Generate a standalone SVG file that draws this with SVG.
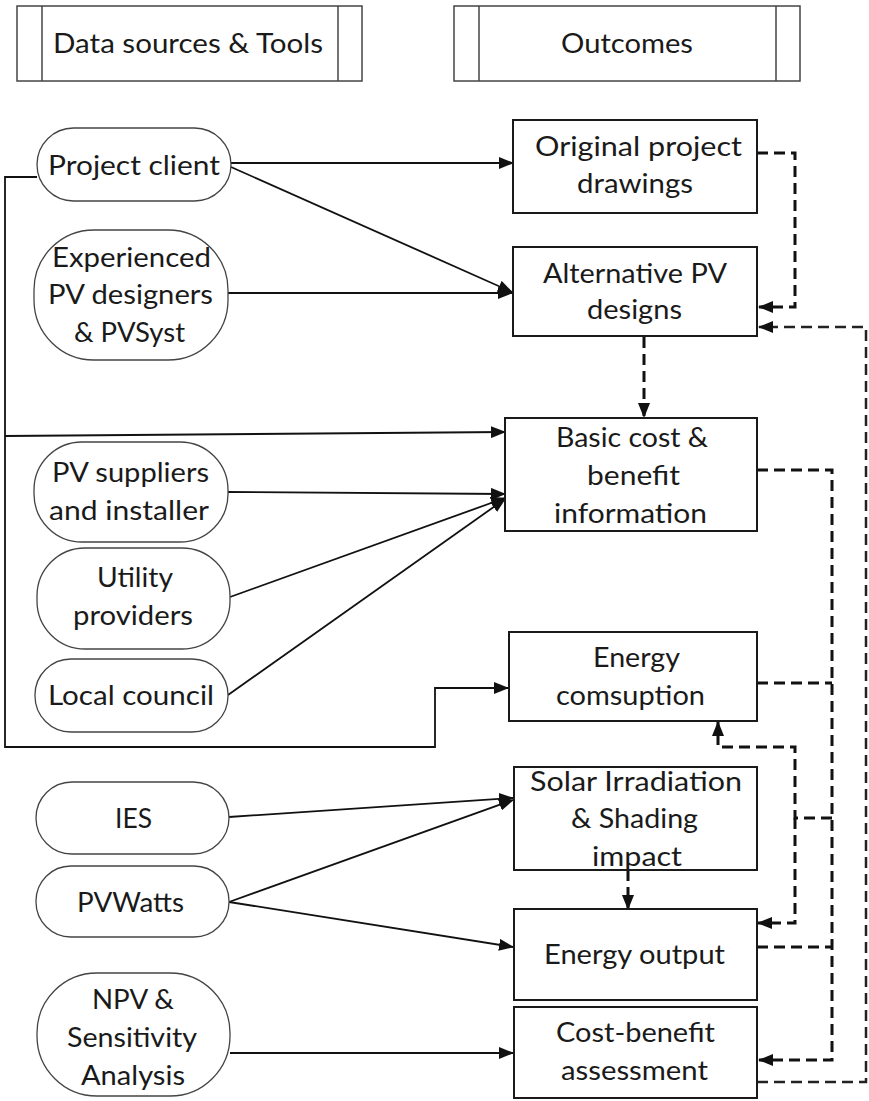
<svg xmlns="http://www.w3.org/2000/svg" width="869" height="1101" viewBox="0 0 869 1101">
<style>
.bg{fill:#ffffff}
.hdr{fill:#ffffff;stroke:#444;stroke-width:1.5}
.sep{stroke:#444;stroke-width:1.5}
.term{fill:#ffffff;stroke:#444;stroke-width:1.3}
.box{fill:#ffffff;stroke:#1a1a1a;stroke-width:2}
text{font-family:Lato,"Open Sans","Liberation Sans",sans-serif;font-size:27px;fill:#1a1a1a}
.solid{fill:none;stroke:#111;stroke-width:1.8}
.dash{fill:none;stroke:#111;stroke-width:3;stroke-dasharray:11 6}
.dashthin{fill:none;stroke:#222;stroke-width:2.5;stroke-dasharray:11 6}
</style>
<defs>
<marker id="ah" markerWidth="15" markerHeight="12" refX="14" refY="6" orient="auto" markerUnits="userSpaceOnUse">
<path d="M0,0 L15,6 L0,12 z" fill="#111"/>
</marker>
</defs>
<rect class="bg" x="0" y="0" width="869" height="1101"/>

<g id="hdr-sources">
<rect class="hdr" x="17" y="6" width="345" height="75"/>
<line class="sep" x1="42" y1="6" x2="42" y2="81"/>
<line class="sep" x1="338" y1="6" x2="338" y2="81"/>
<text x="53" y="53" textLength="270" lengthAdjust="spacingAndGlyphs">Data sources &amp; Tools</text>
</g>
<g id="hdr-outcomes">
<rect class="hdr" x="454" y="6" width="346" height="75"/>
<line class="sep" x1="479" y1="6" x2="479" y2="81"/>
<line class="sep" x1="776" y1="6" x2="776" y2="81"/>
<text x="561" y="53" textLength="132" lengthAdjust="spacingAndGlyphs">Outcomes</text>
</g>

<g id="connectors">
<path class="solid" d="M231,163 H513" marker-end="url(#ah)"/>
<path class="solid" d="M231,167 L512,292" marker-end="url(#ah)"/>
<path class="solid" d="M228,293 H512" marker-end="url(#ah)"/>
<path class="solid" d="M37,177 H5 V747 H435 V688 H508" marker-end="url(#ah)"/>
<path class="solid" d="M5,436 L505,432" marker-end="url(#ah)"/>
<path class="solid" d="M228,492 L505,494" marker-end="url(#ah)"/>
<path class="solid" d="M230,597 L505,498" marker-end="url(#ah)"/>
<path class="solid" d="M228,695 L505,499" marker-end="url(#ah)"/>
<path class="solid" d="M229,817 L513,798" marker-end="url(#ah)"/>
<path class="solid" d="M229,902 L513,800" marker-end="url(#ah)"/>
<path class="solid" d="M229,902 L513,947" marker-end="url(#ah)"/>
<path class="solid" d="M230,1053 H513" marker-end="url(#ah)"/>

<path class="dash" d="M757,153 H795 V307 H759" marker-end="url(#ah)"/>
<path class="dashthin" d="M757,1082 H866 V327 H759" marker-end="url(#ah)"/>
<path class="dash" d="M644,337 V417" marker-end="url(#ah)"/>
<path class="dash" d="M757,470 H832 V1060 H759" marker-end="url(#ah)"/>
<path class="dash" d="M757,683 H832"/>
<path class="dash" d="M757,947 H832"/>
<path class="dash" d="M832,818 H795 V747 H718 V722" marker-end="url(#ah)"/>
<path class="dash" d="M795,818 V923 H758" marker-end="url(#ah)"/>
<path class="dash" d="M628,870 V909" marker-end="url(#ah)"/>
</g>

<g id="n-client">
<rect class="term" x="37" y="128" width="194" height="73" rx="36.5"/>
<text x="48" y="175" textLength="172" lengthAdjust="spacingAndGlyphs">Project client</text>
</g>
<g id="n-designers">
<rect class="term" x="34" y="230" width="194" height="130" rx="60"/>
<text x="52" y="267" textLength="159" lengthAdjust="spacingAndGlyphs">Experienced</text>
<text x="48" y="304" textLength="165" lengthAdjust="spacingAndGlyphs">PV designers</text>
<text x="74" y="342" textLength="111" lengthAdjust="spacingAndGlyphs">&amp; PVSyst</text>
</g>
<g id="n-suppliers">
<rect class="term" x="34" y="442" width="194" height="100" rx="48"/>
<text x="52" y="482" textLength="157" lengthAdjust="spacingAndGlyphs">PV suppliers</text>
<text x="49" y="520" textLength="160" lengthAdjust="spacingAndGlyphs">and installer</text>
</g>
<g id="n-utility">
<rect class="term" x="37" y="548" width="193" height="101" rx="48"/>
<text x="97" y="587" textLength="76" lengthAdjust="spacingAndGlyphs">Utility</text>
<text x="73" y="625" textLength="120" lengthAdjust="spacingAndGlyphs">providers</text>
</g>
<g id="n-council">
<rect class="term" x="35" y="659" width="193" height="73" rx="36"/>
<text x="48" y="705" textLength="166" lengthAdjust="spacingAndGlyphs">Local council</text>
</g>
<g id="n-ies">
<rect class="term" x="36" y="782" width="193" height="72" rx="36"/>
<text x="115" y="828" textLength="37" lengthAdjust="spacingAndGlyphs">IES</text>
</g>
<g id="n-pvwatts">
<rect class="term" x="36" y="866" width="193" height="71" rx="35"/>
<text x="77" y="912" textLength="107" lengthAdjust="spacingAndGlyphs">PVWatts</text>
</g>
<g id="n-npv">
<rect class="term" x="37" y="973" width="193" height="123" rx="60"/>
<text x="92" y="1009" textLength="82" lengthAdjust="spacingAndGlyphs">NPV &amp;</text>
<text x="67" y="1047" textLength="130" lengthAdjust="spacingAndGlyphs">Sensitivity</text>
<text x="81" y="1085" textLength="104" lengthAdjust="spacingAndGlyphs">Analysis</text>
</g>

<g id="o-drawings">
<rect class="box" x="513" y="120" width="244" height="93"/>
<text x="535" y="156" textLength="207" lengthAdjust="spacingAndGlyphs">Original project</text>
<text x="577" y="193" textLength="116" lengthAdjust="spacingAndGlyphs">drawings</text>
</g>
<g id="o-alternative">
<rect class="box" x="513" y="247" width="244" height="89"/>
<text x="543" y="283" textLength="184" lengthAdjust="spacingAndGlyphs">Alternative PV</text>
<text x="587" y="319" textLength="95" lengthAdjust="spacingAndGlyphs">designs</text>
</g>
<g id="o-basic">
<rect class="box" x="505" y="418" width="252" height="113"/>
<text x="556" y="447" textLength="152" lengthAdjust="spacingAndGlyphs">Basic cost &amp;</text>
<text x="587" y="485" textLength="93" lengthAdjust="spacingAndGlyphs">benefit</text>
<text x="554" y="523" textLength="153" lengthAdjust="spacingAndGlyphs">information</text>
</g>
<g id="o-consumption">
<rect class="box" x="509" y="632" width="248" height="89"/>
<text x="593" y="667" textLength="87" lengthAdjust="spacingAndGlyphs">Energy</text>
<text x="556" y="705" textLength="149" lengthAdjust="spacingAndGlyphs">comsuption</text>
</g>
<g id="o-solar">
<rect class="box" x="514" y="767" width="243" height="103"/>
<text x="530" y="791" textLength="212" lengthAdjust="spacingAndGlyphs">Solar Irradiation</text>
<text x="571" y="828" textLength="127" lengthAdjust="spacingAndGlyphs">&amp; Shading</text>
<text x="592" y="866" textLength="90" lengthAdjust="spacingAndGlyphs">impact</text>
</g>
<g id="o-output">
<rect class="box" x="514" y="909" width="243" height="91"/>
<text x="544" y="964" textLength="181" lengthAdjust="spacingAndGlyphs">Energy output</text>
</g>
<g id="o-costbenefit">
<rect class="box" x="514" y="1007" width="243" height="91"/>
<text x="556" y="1042" textLength="159" lengthAdjust="spacingAndGlyphs">Cost-benefit</text>
<text x="561" y="1080" textLength="147" lengthAdjust="spacingAndGlyphs">assessment</text>
</g>
</svg>
